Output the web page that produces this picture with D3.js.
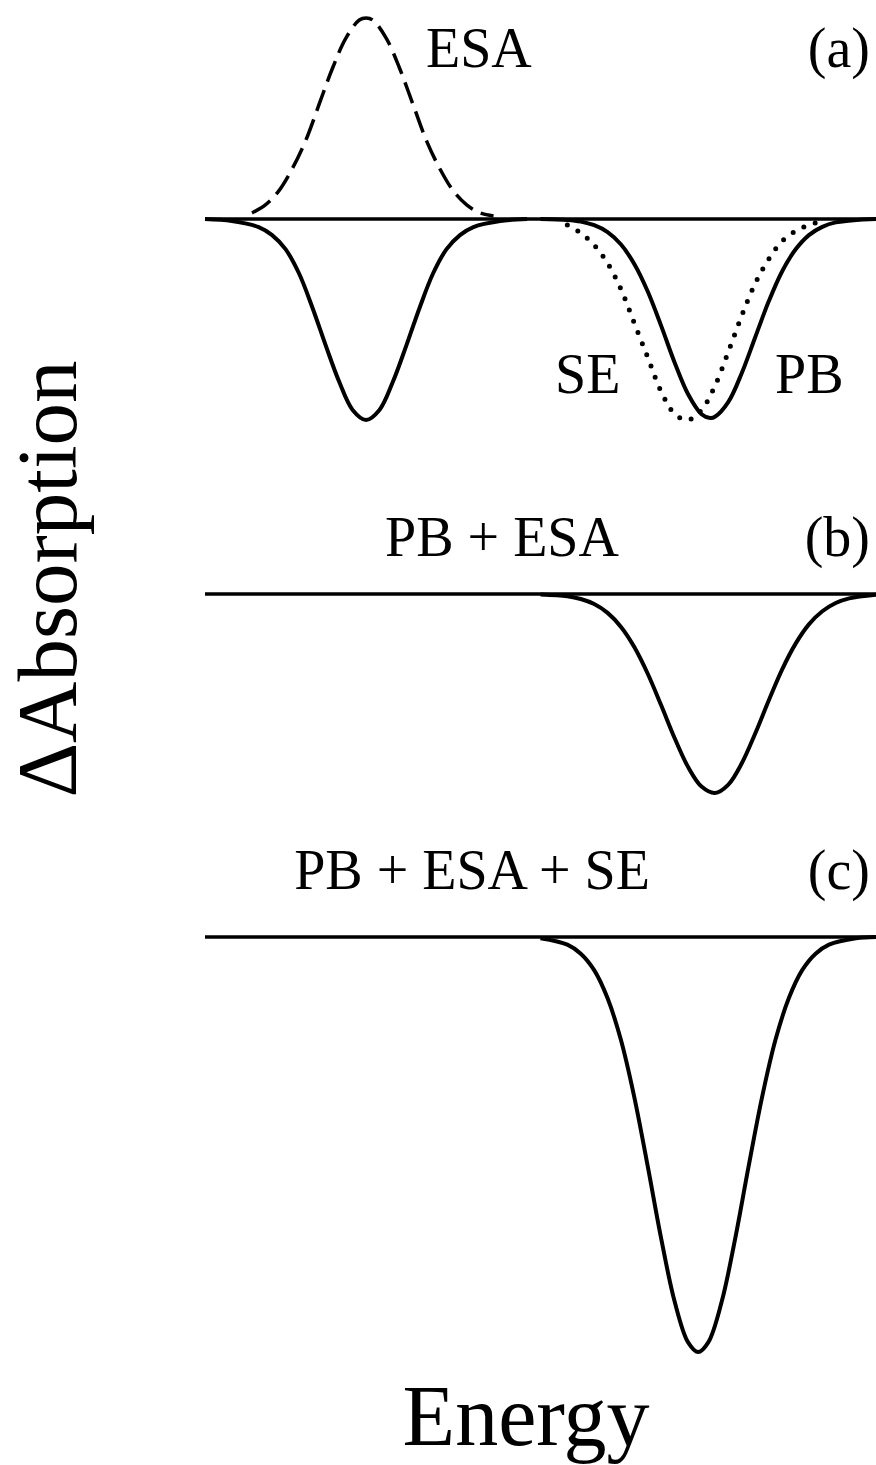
<!DOCTYPE html>
<html>
<head>
<meta charset="utf-8">
<script src="https://cdn.jsdelivr.net/npm/d3@7"></script>
<style>
  html, body { margin: 0; padding: 0; background: #fff; }
  svg { display: block; }
  text { font-family: "Liberation Serif", "Times New Roman", serif; fill: #000; }
</style>
</head>
<body>
<svg id="chart" width="876" height="1465"></svg>
<script>
// ---- Spectra (energy in arbitrary units, ΔA in units of the bleach depth) ----

// (a) individual contributions
const pbHighEnergy = [0, 4, 8, 10, 12, 14, 16, 18, 20, 22, 24, 26, 28, 30, 32, 34, 36, 38, 40, 44, 48];
const pbHighSignal = [0, -0.01, -0.04, -0.08, -0.15, -0.27, -0.44, -0.63, -0.81, -0.95, -1.0, -0.95, -0.81, -0.63, -0.44, -0.27, -0.15, -0.08, -0.04, -0.01, 0];

const esaEnergy = [7, 9, 11, 13, 15, 17, 19, 21, 23, 24, 25, 27, 29, 31, 33, 35, 37, 39, 41, 43];
const esaSignal = [0.03, 0.07, 0.14, 0.25, 0.39, 0.57, 0.75, 0.90, 0.99, 1.0, 0.99, 0.90, 0.75, 0.57, 0.39, 0.25, 0.14, 0.07, 0.03, 0.015];

const pbLowEnergy = [50, 54, 56, 58, 60, 62, 64, 66, 68, 70, 72, 74, 75.3, 76, 78, 80, 82, 84, 86, 88, 90, 92, 94, 98, 100];
const pbLowSignal = [0, -0.005, -0.013, -0.031, -0.065, -0.127, -0.225, -0.362, -0.533, -0.715, -0.872, -0.971, -0.99, -0.984, -0.910, -0.766, -0.588, -0.411, -0.261, -0.152, -0.080, -0.039, -0.017, -0.002, 0];

const seEnergy = [54, 56, 58, 60, 62, 64, 66, 68, 70, 72, 74, 76, 78, 80, 82, 84, 86, 88, 90, 92];
const seSignal = [-0.03, -0.07, -0.13, -0.22, -0.35, -0.52, -0.69, -0.86, -0.97, -1.0, -0.95, -0.83, -0.66, -0.48, -0.32, -0.20, -0.11, -0.06, -0.03, -0.01];

// (b) PB + ESA
const pbEsaEnergy = [50, 54, 56, 58, 60, 62, 64, 66, 68, 70, 72, 74, 76, 78, 80, 82, 84, 86, 88, 90, 92, 94, 96, 100];
const pbEsaSignal = [-0.002, -0.011, -0.025, -0.050, -0.094, -0.164, -0.265, -0.398, -0.555, -0.718, -0.861, -0.958, -0.99, -0.948, -0.842, -0.694, -0.531, -0.376, -0.248, -0.151, -0.086, -0.045, -0.022, -0.004];

// (c) PB + ESA + SE
const allEnergy = [50, 54, 56, 58, 60, 62, 64, 66, 68, 70, 72, 73.5, 75, 77, 79, 81, 83, 85, 87, 89, 91, 93, 97, 100];
const allSignal = [-0.006, -0.038, -0.083, -0.165, -0.305, -0.514, -0.800, -1.144, -1.503, -1.815, -2.017, -2.065, -2.017, -1.815, -1.503, -1.144, -0.800, -0.514, -0.305, -0.165, -0.083, -0.038, -0.006, 0];

// energy span of each panel's zero line
const energyRange = [0, 100];

// labels
const panelTags = ["(a)", "(b)", "(c)"];
const sumLabels = ["PB + ESA", "PB + ESA + SE"];
const xTitle = "Energy";
const yTitle = "\u0394Absorption";

// ---- Layout ----
const svg = d3.select("#chart");
const x = d3.scaleLinear().domain(energyRange).range([205, 876]);
const unitPx = 201;
const yFor = base => d3.scaleLinear().domain([0, 1]).range([base, base - unitPx]);

const ya = yFor(219);
const yb = yFor(594);
const yc = yFor(937);

const pairs = (en, sig) => en.map((e, i) => [e, sig[i]]);

function drawCurve(y, en, sig, style) {
  const line = d3.line()
    .x(d => x(d[0]))
    .y(d => y(d[1]))
    .curve(d3.curveCatmullRom.alpha(0.5));
  const p = svg.append("path")
    .datum(pairs(en, sig))
    .attr("d", line)
    .attr("fill", "none")
    .attr("stroke", "#000")
    .attr("stroke-width", style.width || 4)
    .attr("stroke-linejoin", "round")
    .attr("stroke-linecap", style.cap || "butt");
  if (style.dash) p.attr("stroke-dasharray", style.dash);
  return p;
}

function drawZero(y) {
  drawCurve(y, energyRange, [0, 0], { width: 3.5 });
}

// (a)
drawZero(ya);
drawCurve(ya, esaEnergy, esaSignal, { width: 3.5, dash: "22 9" });
drawCurve(ya, pbHighEnergy, pbHighSignal, { width: 4 });
drawCurve(ya, seEnergy, seSignal, { width: 5, dash: "0 12", cap: "round" });
drawCurve(ya, pbLowEnergy, pbLowSignal, { width: 4 });

// (b)
drawZero(yb);
drawCurve(yb, pbEsaEnergy, pbEsaSignal, { width: 4 });

// (c)
drawZero(yc);
drawCurve(yc, allEnergy, allSignal, { width: 4 });

// ---- Text ----
const lab = (tx, ty, s, anchor, size) => svg.append("text")
  .attr("x", tx).attr("y", ty)
  .attr("text-anchor", anchor || "start")
  .attr("font-size", size || 56)
  .text(s);

lab(426, 67, "ESA");
lab(870, 67, panelTags[0], "end");
lab(555, 393, "SE");
lab(775, 393, "PB");

lab(502, 556, sumLabels[0], "middle");
lab(870, 556, panelTags[1], "end");

lab(472, 889, sumLabels[1], "middle");
lab(870, 889, panelTags[2], "end");

lab(526, 1445, xTitle, "middle", 86);
svg.append("text")
  .attr("transform", "translate(76,579) rotate(-90)")
  .attr("text-anchor", "middle")
  .attr("font-size", 85)
  .text(yTitle);
</script>
</body>
</html>
